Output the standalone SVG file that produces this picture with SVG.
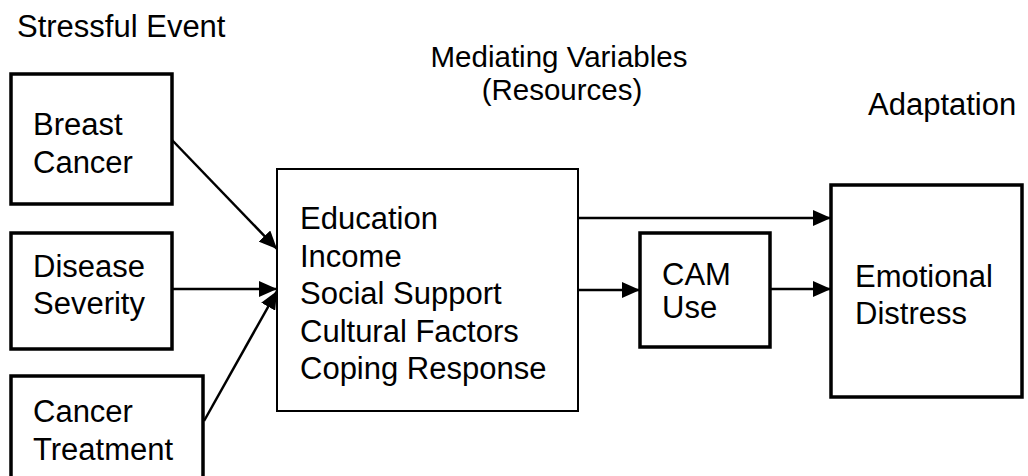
<svg xmlns="http://www.w3.org/2000/svg" width="1028" height="476" viewBox="0 0 1028 476">
<defs>
<marker id="ah" markerWidth="18" markerHeight="16" refX="18" refY="8" orient="auto" markerUnits="userSpaceOnUse">
<path d="M0,0 L18,8 L0,16 Z" fill="#000"/>
</marker>
<style>
text{font-family:"Liberation Sans",Arial,Helvetica,sans-serif;font-size:31px;fill:#000}
.hdr{font-size:29.5px}
.thick{fill:#fff;stroke:#000;stroke-width:3.5}
.thin{fill:#fff;stroke:#000;stroke-width:2}
.conn{stroke:#000;stroke-width:2.5;fill:none;marker-end:url(#ah)}
</style>
</defs>
<rect width="1028" height="476" fill="#fff"/>
<g id="headers">
<text x="17" y="37">Stressful Event</text>
<text class="hdr" x="559" y="67" text-anchor="middle">Mediating Variables</text>
<text class="hdr" x="562" y="100" text-anchor="middle">(Resources)</text>
<text x="868" y="115">Adaptation</text>
</g>
<g id="breast-cancer">
<rect class="thick" x="11" y="74" width="161" height="130"/>
<text x="33" y="135">Breast</text>
<text x="33" y="173">Cancer</text>
</g>
<g id="disease-severity">
<rect class="thick" x="11" y="233" width="161" height="116"/>
<text x="33" y="277">Disease</text>
<text x="33" y="314">Severity</text>
</g>
<g id="cancer-treatment">
<rect class="thick" x="11" y="376" width="192" height="110"/>
<text x="33" y="422">Cancer</text>
<text x="33" y="460">Treatment</text>
</g>
<g id="mediating">
<rect class="thin" x="277" y="169" width="301" height="242"/>
<text x="300" y="229">Education</text>
<text x="300" y="267">Income</text>
<text x="300" y="304">Social Support</text>
<text x="300" y="342">Cultural Factors</text>
<text x="300" y="379">Coping Response</text>
</g>
<g id="cam-use">
<rect class="thick" x="640" y="233" width="130" height="114"/>
<text x="662" y="285">CAM</text>
<text x="662" y="318">Use</text>
</g>
<g id="emotional-distress">
<rect class="thick" x="831" y="185" width="191" height="212"/>
<text x="855" y="287">Emotional</text>
<text x="855" y="324">Distress</text>
</g>
<g id="connectors">
<line class="conn" x1="172" y1="140" x2="277" y2="249"/>
<line class="conn" x1="172" y1="289" x2="277" y2="289"/>
<line class="conn" x1="204" y1="421" x2="277" y2="291"/>
<line class="conn" x1="578" y1="218" x2="831" y2="218"/>
<line class="conn" x1="578" y1="290" x2="640" y2="290"/>
<line class="conn" x1="770" y1="289" x2="831" y2="289"/>
</g>
</svg>
